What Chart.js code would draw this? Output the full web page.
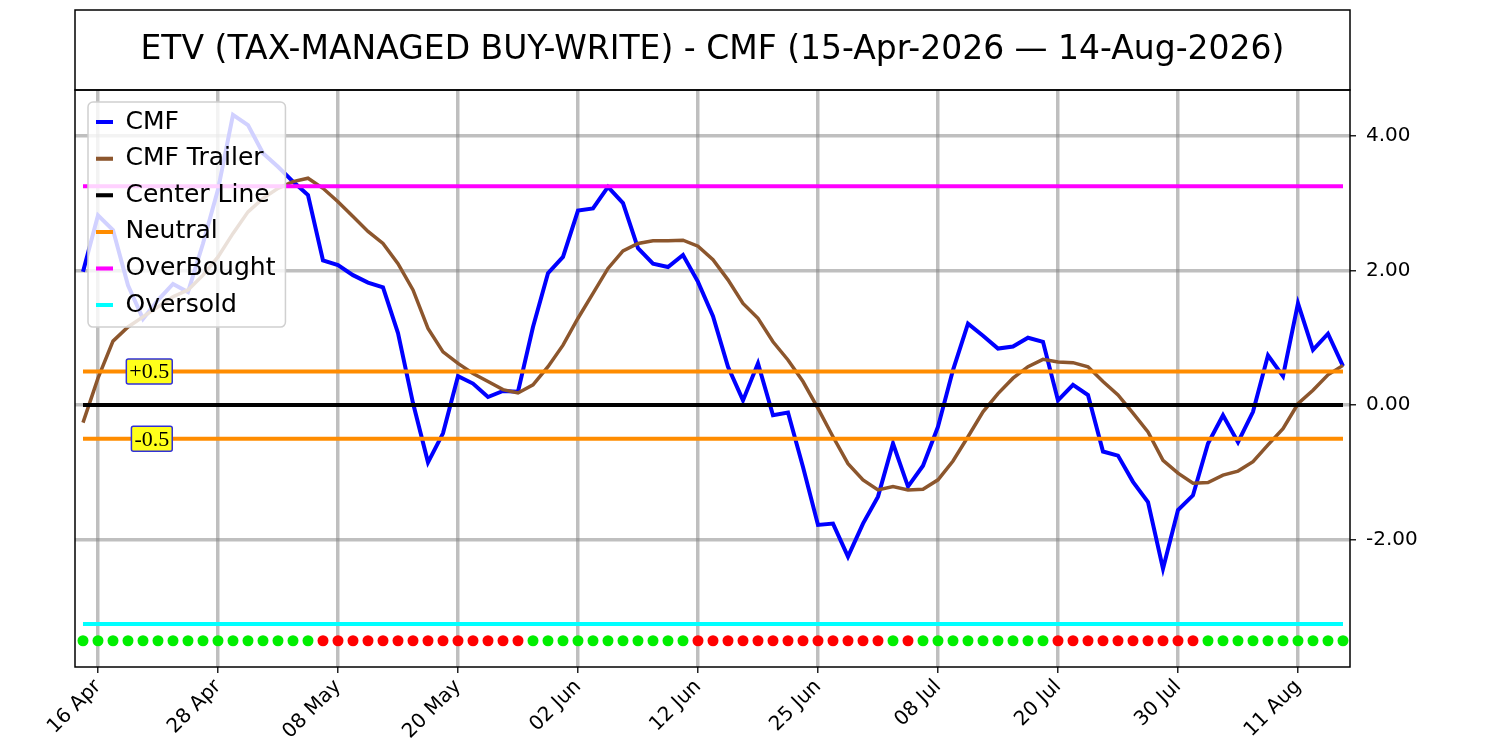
<!DOCTYPE html>
<html>
<head>
<meta charset="utf-8">
<script src="https://cdn.jsdelivr.net/npm/chart.js@4.4.1/dist/chart.umd.min.js"></script>
<style>
  body { margin: 0; background: #fff; }
  canvas { display: block; }
</style>
</head>
<body>
<canvas id="cmf-chart" width="1500" height="750"></canvas>
<script>
var dates = [
  "15 Apr", "16 Apr", "17 Apr", "20 Apr", "21 Apr", "22 Apr", "23 Apr", "24 Apr", "27 Apr", "28 Apr",
  "29 Apr", "30 Apr", "01 May", "04 May", "05 May", "06 May", "07 May", "08 May", "11 May", "12 May",
  "13 May", "14 May", "15 May", "18 May", "19 May", "20 May", "21 May", "22 May", "26 May", "27 May",
  "28 May", "29 May", "01 Jun", "02 Jun", "03 Jun", "04 Jun", "05 Jun", "08 Jun", "09 Jun", "10 Jun",
  "11 Jun", "12 Jun", "15 Jun", "16 Jun", "17 Jun", "18 Jun", "22 Jun", "23 Jun", "24 Jun", "25 Jun",
  "26 Jun", "29 Jun", "30 Jun", "01 Jul", "02 Jul", "06 Jul", "07 Jul", "08 Jul", "09 Jul", "10 Jul",
  "13 Jul", "14 Jul", "15 Jul", "16 Jul", "17 Jul", "20 Jul", "21 Jul", "22 Jul", "23 Jul", "24 Jul",
  "27 Jul", "28 Jul", "29 Jul", "30 Jul", "31 Jul", "03 Aug", "04 Aug", "05 Aug", "06 Aug", "07 Aug",
  "10 Aug", "11 Aug", "12 Aug", "13 Aug", "14 Aug"
];

var cmf = [
  1.98, 2.82, 2.60, 1.78, 1.28, 1.56, 1.80, 1.68, 2.40, 3.20,
  4.31, 4.16, 3.74, 3.54, 3.32, 3.12, 2.15, 2.08, 1.93, 1.82,
  1.75, 1.07, 0.03, -0.85, -0.42, 0.43, 0.32, 0.12, 0.21, 0.20,
  1.16, 1.96, 2.20, 2.89, 2.92, 3.24, 3.00, 2.33, 2.10, 2.05,
  2.23, 1.83, 1.32, 0.57, 0.07, 0.62, -0.15, -0.11, -0.92, -1.78,
  -1.76, -2.25, -1.76, -1.36, -0.57, -1.21, -0.90, -0.32, 0.52, 1.21,
  1.03, 0.84, 0.87, 1.00, 0.94, 0.07, 0.30, 0.15, -0.69, -0.75,
  -1.14, -1.44, -2.43, -1.56, -1.34, -0.57, -0.15, -0.55, -0.10, 0.74,
  0.43, 1.51, 0.82, 1.06, 0.58
];

var cmfTrailer = [
  -0.26, 0.40, 0.95, 1.16, 1.31, 1.46, 1.61, 1.71, 1.93, 2.20,
  2.55, 2.87, 3.07, 3.22, 3.32, 3.37, 3.22, 3.02, 2.80, 2.58,
  2.40, 2.10, 1.71, 1.14, 0.79, 0.62, 0.47, 0.35, 0.23, 0.18,
  0.30, 0.57, 0.89, 1.29, 1.66, 2.03, 2.29, 2.40, 2.44, 2.44,
  2.45, 2.36, 2.16, 1.86, 1.51, 1.29, 0.94, 0.67, 0.35, -0.05,
  -0.47, -0.87, -1.11, -1.26, -1.21, -1.26, -1.25, -1.11, -0.83, -0.47,
  -0.10, 0.17, 0.40, 0.57, 0.68, 0.64, 0.63, 0.57, 0.35, 0.15,
  -0.12, -0.40, -0.82, -1.01, -1.16, -1.15, -1.04, -0.98, -0.84, -0.59,
  -0.35, 0.02, 0.22, 0.45, 0.59
];

// 1 = green dot, 0 = red dot
var signal = [
  1, 1, 1, 1, 1, 1, 1, 1, 1, 1, 1, 1, 1, 1, 1, 1,
  0, 0, 0, 0, 0, 0, 0, 0, 0, 0, 0, 0, 0, 0,
  1, 1, 1, 1, 1, 1, 1, 1, 1, 1, 1,
  0, 0, 0, 0, 0, 0, 0, 0, 0, 0, 0, 0, 0,
  1, 0,
  1, 1, 1, 1, 1, 1, 1, 1, 1,
  0, 0, 0, 0, 0, 0, 0, 0, 0, 0,
  1, 1, 1, 1, 1, 1, 1, 1, 1, 1
];

var xTickIndex = [1, 9, 17, 25, 33, 41, 49, 57, 65, 73, 81];
var yTicks = [-2, 0, 2, 4];

var centerLine = 0;
var neutral = 0.5;
var overBought = 3.25;
var overSold = -3.25;
var signalRow = -3.5;

var titleText = "ETV (TAX-MANAGED BUY-WRITE) - CMF (15-Apr-2026 \u2014 14-Aug-2026)";

function points(values) {
  return values.map(function (v, i) { return { x: i, y: v }; });
}

function level(v) {
  return [{ x: 0, y: v }, { x: dates.length - 1, y: v }];
}

function lineSet(label, data, color, width, order) {
  return {
    label: label,
    data: data,
    borderColor: color,
    backgroundColor: color,
    borderWidth: width,
    pointRadius: 0,
    tension: 0,
    order: order
  };
}

function drawTag(ctx, text, xRight, yMid) {
  ctx.save();
  ctx.font = '22px "Liberation Serif", "Times New Roman", serif';
  var w = ctx.measureText(text).width;
  var h = 25;
  ctx.beginPath();
  ctx.roundRect(xRight - w - 3, yMid - h / 2, w + 6, h, 2);
  ctx.fillStyle = '#ffff1a';
  ctx.fill();
  ctx.lineWidth = 1.5;
  ctx.strokeStyle = '#3030d8';
  ctx.stroke();
  ctx.fillStyle = '#000';
  ctx.textAlign = 'right';
  ctx.textBaseline = 'middle';
  ctx.fillText(text, xRight, yMid + 1);
  ctx.restore();
}

var framePlugin = {
  id: 'frame',
  afterLayout: function (chart) {
    var a = chart.chartArea, lg = chart.legend;
    lg.left = a.left + 9.4;
    lg.top = a.top + 8;
    lg.bottom = a.bottom;
    lg.right = a.right;
  },
  afterDatasetsDraw: function (chart) {
    var ctx = chart.ctx;
    var xs = chart.scales.x, ys = chart.scales.y;
    drawTag(ctx, '+0.5', xs.getPixelForValue(5.75), ys.getPixelForValue(neutral));
    drawTag(ctx, '-0.5', xs.getPixelForValue(5.75), ys.getPixelForValue(-neutral));

    // legend box sits above the lines, like matplotlib
    var hb = chart.legend.legendHitBoxes;
    var left = hb[0].left - 8, top = hb[0].top - 7.5;
    var right = 0, bottom = 0;
    hb.forEach(function (b) {
      right = Math.max(right, b.left + b.width);
      bottom = Math.max(bottom, b.top + b.height);
    });
    right += 10;
    bottom += 9.5;
    ctx.save();
    ctx.beginPath();
    ctx.roundRect(left, top, right - left, bottom - top, 5);
    ctx.fillStyle = 'rgba(255,255,255,0.82)';
    ctx.fill();
    ctx.lineWidth = 1.5;
    ctx.strokeStyle = '#d0d0d0';
    ctx.stroke();
    ctx.restore();
    chart.legend.draw();
  },
  afterDraw: function (chart) {
    var ctx = chart.ctx, a = chart.chartArea;
    ctx.save();
    ctx.lineWidth = 1.5;
    ctx.strokeStyle = '#000';
    ctx.strokeRect(a.left, a.top, a.right - a.left, a.bottom - a.top);
    ctx.strokeRect(a.left, 10, a.right - a.left, a.top - 10);
    ctx.restore();
  }
};

var ctx = document.getElementById('cmf-chart');
var myChart = new Chart(ctx, {
  type: 'line',
  data: {
    datasets: [
      lineSet('CMF', points(cmf), '#0000ff', 4, 8),
      lineSet('CMF Trailer', points(cmfTrailer), '#8c562d', 3.5, 7),
      lineSet('Center Line', level(centerLine), '#000000', 4, 6),
      lineSet('Neutral', level(neutral), '#ff8c00', 4, 5),
      lineSet('', level(-neutral), '#ff8c00', 4, 4),
      lineSet('OverBought', level(overBought), '#ff00ff', 4, 3),
      lineSet('Oversold', level(overSold), '#00ffff', 4, 2),
      {
        label: '',
        data: signal.map(function (s, i) { return { x: i, y: signalRow }; }),
        showLine: false,
        pointRadius: 5.5,
        pointBorderWidth: 0,
        pointBackgroundColor: signal.map(function (s) { return s ? '#00ee00' : '#ff0000'; }),
        order: 1
      }
    ]
  },
  options: {
    responsive: false,
    animation: false,
    devicePixelRatio: 1,
    layout: { padding: { left: 75, right: 0, top: 0, bottom: 0 } },
    plugins: {
      title: {
        display: true,
        text: titleText,
        fullSize: false,
        color: '#000',
        font: { family: 'DejaVu Sans', size: 33, weight: 'normal', lineHeight: 1.2 },
        padding: { top: 30.2, bottom: 20.2 }
      },
      legend: {
        display: true,
        position: 'chartArea',
        align: 'start',
        labels: {
          boxWidth: 17,
          boxHeight: 4,
          padding: 11.6,
          color: '#000',
          font: { family: 'DejaVu Sans', size: 25 },
          generateLabels: function (chart) {
            return chart.data.datasets.map(function (d, i) {
              return {
                text: d.label,
                fillStyle: d.borderColor,
                strokeStyle: d.borderColor,
                lineWidth: 0,
                fontColor: '#000',
                hidden: false,
                datasetIndex: i
              };
            }).filter(function (item) { return item.text !== ''; });
          }
        }
      },
      tooltip: { enabled: false }
    },
    scales: {
      x: {
        type: 'linear',
        min: -0.533,
        max: 84.467,
        afterBuildTicks: function (scale) {
          scale.ticks = xTickIndex.map(function (v) { return { value: v }; });
        },
        afterFit: function (scale) { scale.height = 83; },
        ticks: {
          autoSkip: false,
          minRotation: 45,
          maxRotation: 45,
          padding: 2,
          color: '#000',
          font: { family: 'DejaVu Sans', size: 20 },
          callback: function (v) { return dates[v]; }
        },
        grid: {
          color: 'rgba(128,128,128,0.5)',
          lineWidth: 3.5,
          tickLength: 6,
          tickColor: '#222',
          tickWidth: 1.5
        },
        border: { display: false }
      },
      y: {
        type: 'linear',
        position: 'right',
        min: -3.89,
        max: 4.68,
        afterBuildTicks: function (scale) {
          scale.ticks = yTicks.map(function (v) { return { value: v }; });
        },
        afterFit: function (scale) { scale.width = 150; },
        ticks: {
          padding: 10,
          color: '#000',
          font: { family: 'DejaVu Sans', size: 20 },
          callback: function (v) { return v.toFixed(2); }
        },
        grid: {
          color: 'rgba(128,128,128,0.5)',
          lineWidth: 3.5,
          tickLength: 6,
          tickColor: '#222',
          tickWidth: 1.5
        },
        border: { display: false }
      }
    }
  },
  plugins: [framePlugin]
});
</script>
</body>
</html>
